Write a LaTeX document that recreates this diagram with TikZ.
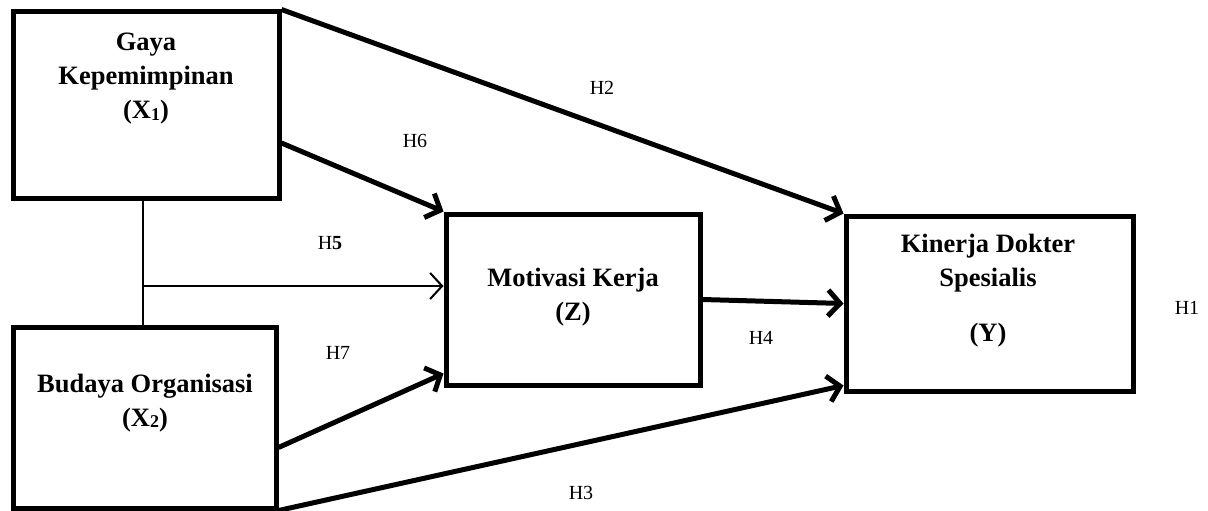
\documentclass[tikz,border=0pt]{standalone}
\usepackage{fontspec}
\setmainfont{Liberation Serif}
\usetikzlibrary{arrows.meta,calc}
\newcommand{\mysub}[1]{\raisebox{-1.5pt}{\fontsize{18}{18}\selectfont #1}}
\begin{document}
\begin{tikzpicture}[x=1pt,y=-1pt,
  box/.style={draw,line width=5pt,rectangle,inner sep=0pt},
  btext/.style={font=\fontsize{26.5}{34}\selectfont\bfseries,align=center,inner sep=0pt},
  hlab/.style={font=\fontsize{20}{20}\selectfont,inner sep=0pt},
  thick arrow/.style={line width=5pt,-{Straight Barb[length=12pt,width=26pt,line width=5pt]}},
  thin arrow/.style={line width=2pt,-{Straight Barb[length=12pt,width=26pt,line width=2pt]}},
  thin line/.style={line width=2pt}]
\useasboundingbox (0,0) rectangle (1208,511);
% boxes
\node[box,minimum width=266pt,minimum height=186pt] (x1) at (146,105) {};
\node[box,minimum width=263pt,minimum height=181pt] (x2) at (144.5,417.5) {};
\node[box,minimum width=254pt,minimum height=171pt] (z) at (573,299.5) {};
\node[box,minimum width=287pt,minimum height=175pt] (y) at (989.5,303.5) {};
% texts
\node[btext] (tx1) at (146,79) {Gaya\\Kepemimpinan\\(X\mysub{1})};
\node[btext] (tx2) at (145,403) {Budaya Organisasi\\(X\mysub{2})};
\node[btext] (tz) at (573,297) {Motivasi Kerja\\(Z)};
\node[btext] (ty1) at (988,263) {Kinerja Dokter\\Spesialis};
\node[btext] (ty2) at (988,335) {(Y)};
% labels
\node[hlab] (h1) at (1187,308) {H1};
\node[hlab] (h2) at (602,88) {H2};
\node[hlab] (h3) at (581,493) {H3};
\node[hlab] (h4) at (761,338) {H4};
\node[hlab] (h5) at (330,243) {H\textbf{5}};
\node[hlab] (h6) at (415,141) {H6};
\node[hlab] (h7) at (338,353) {H7};
% connectors
\coordinate (top) at (143,198);
\coordinate (bot) at (143,327);
\coordinate (j) at (143,286);
\draw[thin line] (top) -- (bot);
\draw[thin arrow] (j) -- (j -| z.west);
\draw[thick arrow] (x1.north east) -- (y.north west);
\draw[thick arrow] ([yshift=-38pt]x1.east) -- (z.north west);
\draw[thick arrow] ([yshift=-30pt]x2.east) -- ([yshift=14pt]z.south west);
\draw[thick arrow] (x2.south east) -- ([yshift=8pt]y.south west);
\draw[thick arrow] (z.east) -- (y.west);
\end{tikzpicture}
\end{document}
